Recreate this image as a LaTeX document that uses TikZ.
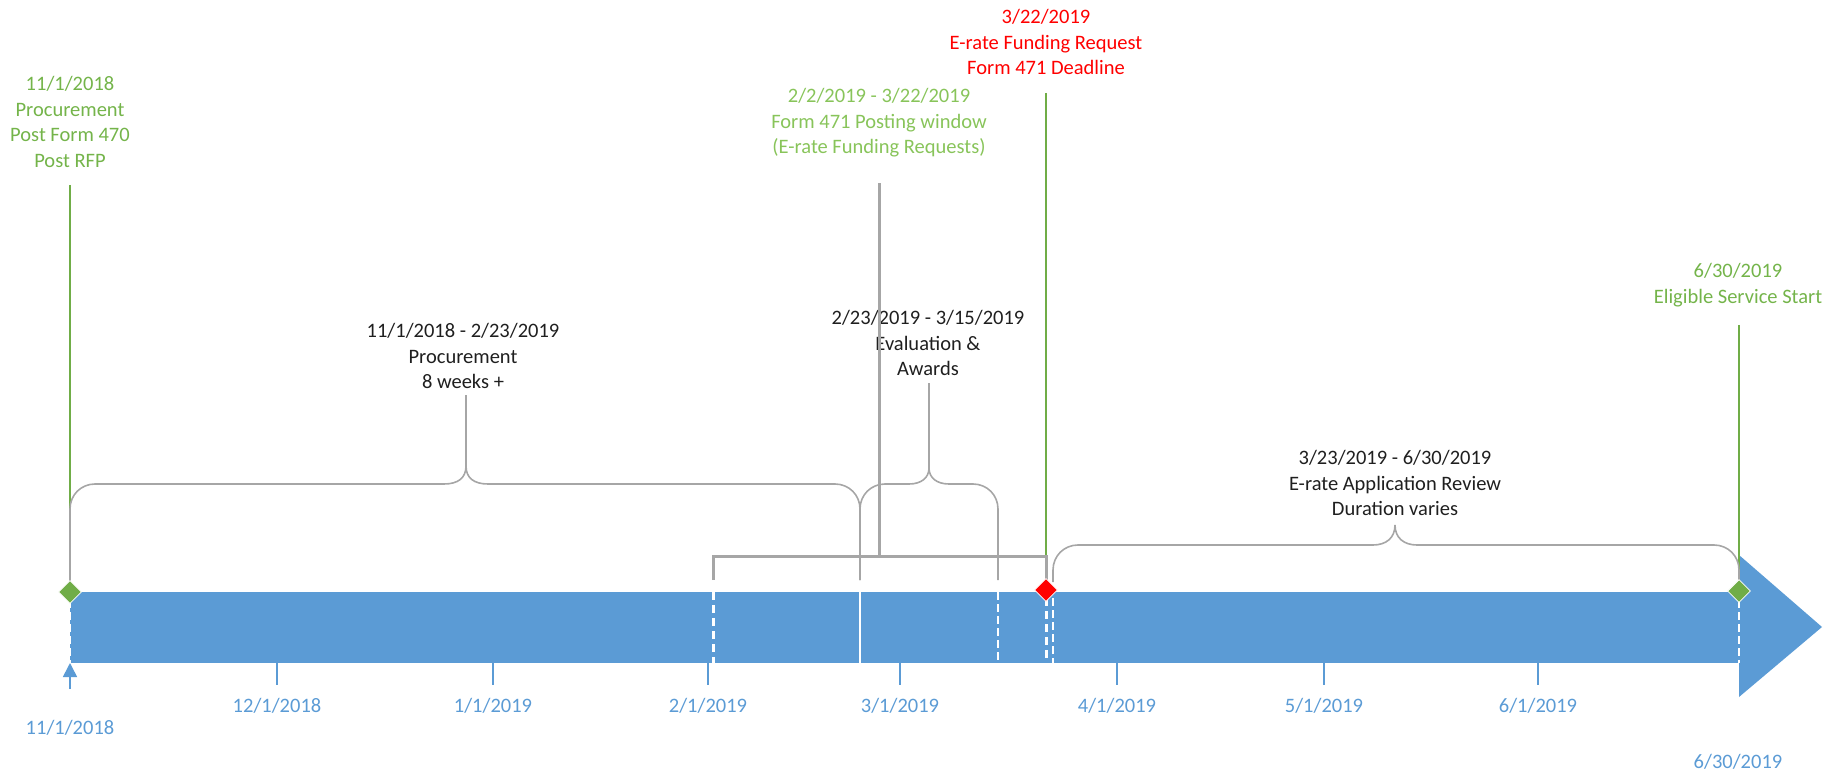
\documentclass[tikz,border=0pt]{standalone}
\usepackage{fontspec}
\setmainfont{Carlito}
\usetikzlibrary{shapes.geometric,arrows.meta}
\definecolor{barblue}{HTML}{5B9BD5}
\definecolor{mgreen}{HTML}{70AD47}
\definecolor{tgreen}{HTML}{74B44A}
\definecolor{lgreen}{HTML}{88C45A}
\definecolor{bgray}{HTML}{A6A6A6}
\definecolor{tblack}{HTML}{1F1F1F}
\begin{document}
\begin{tikzpicture}[x=0.5pt,y=-0.5pt,
  lbl/.style={font=\fontsize{10.25}{12.75}\selectfont, align=center, inner sep=0pt, anchor=north},
  axlbl/.style={font=\fontsize{10.25}{12.75}\selectfont, text=barblue, inner sep=0pt, anchor=base},
  gline/.style={draw=mgreen, line width=1pt},
  bracegray/.style={draw=bgray, line width=0.8pt},
  bracketgray/.style={draw=bgray, line width=1.5pt},
  tickline/.style={draw=barblue, line width=0.8pt},
  wthin/.style={draw=white, line width=0.8pt, dash pattern=on 4pt off 2pt},
  wthick/.style={draw=white, line width=1.5pt, dash pattern=on 4pt off 2.5pt},
  msd/.style={diamond, inner sep=0pt, minimum size=11.5pt, draw=white, line width=0.4pt},
]
\useasboundingbox (0,0) rectangle (1837,775);

% ---- timeline bar ----
\fill[barblue] (70,592) rectangle (1739,663);
\fill[barblue] (1739,555) -- (1822,627) -- (1739,697) -- cycle;

% ---- white markers in the bar ----
\coordinate (w1a) at (70,600);   \coordinate (w1b) at (70,663);
\coordinate (w2a) at (713,592);  \coordinate (w2b) at (713,663);
\coordinate (w3a) at (860,592);  \coordinate (w3b) at (860,663);
\coordinate (w4a) at (998,592);  \coordinate (w4b) at (998,663);
\coordinate (w5a) at (1046,598); \coordinate (w5b) at (1046,663);
\coordinate (w6a) at (1053,598); \coordinate (w6b) at (1053,663);
\coordinate (w7a) at (1739,600); \coordinate (w7b) at (1739,663);
\draw[wthin] (w1a) -- (w1b);
\draw[wthick] (w2a) -- (w2b);
\draw[draw=white, line width=0.8pt] (w3a) -- (w3b);
\draw[wthin] (w4a) -- (w4b);
\draw[wthick] (w5a) -- (w5b);
\draw[wthin] (w6a) -- (w6b);
\draw[wthin] (w7a) -- (w7b);

% ---- axis ticks and labels ----
\coordinate (ta1) at (277,663);  \coordinate (tb1) at (277,685);
\coordinate (ta2) at (493,663);  \coordinate (tb2) at (493,685);
\coordinate (ta3) at (708,663);  \coordinate (tb3) at (708,685);
\coordinate (ta4) at (900,663);  \coordinate (tb4) at (900,685);
\coordinate (ta5) at (1117,663); \coordinate (tb5) at (1117,685);
\coordinate (ta6) at (1324,663); \coordinate (tb6) at (1324,685);
\coordinate (ta7) at (1538,663); \coordinate (tb7) at (1538,685);
\foreach \i in {1,...,7} {\draw[tickline] (ta\i) -- (tb\i);}
\node[axlbl] (ax1) at (277,712.5) {12/1/2018};
\node[axlbl] (ax2) at (493,712.5) {1/1/2019};
\node[axlbl] (ax3) at (708,712.5) {2/1/2019};
\node[axlbl] (ax4) at (900,712.5) {3/1/2019};
\node[axlbl] (ax5) at (1117,712.5) {4/1/2019};
\node[axlbl] (ax6) at (1324,712.5) {5/1/2019};
\node[axlbl] (ax7) at (1538,712.5) {6/1/2019};
\node[axlbl] (axs) at (70,734.5) {11/1/2018};
\node[axlbl] (axe) at (1738,768.5) {6/30/2019};
\coordinate (upa) at (70,689);
\coordinate (upb) at (70,663);
\draw[tickline, -{Triangle[width=7pt,length=7pt]}] (upa) -- (upb);

% ---- milestone labels ----
\node[lbl, text=tgreen] (m1) at (70,76) {11/1/2018\\Procurement\\Post Form 470\\Post RFP};
\node[lbl, text=lgreen] (m2) at (879,88) {2/2/2019 - 3/22/2019\\Form 471 Posting window\\(E-rate Funding Requests)};
\node[lbl, text=red] (m3) at (1046,9) {3/22/2019\\E-rate Funding Request\\Form 471 Deadline};
\node[lbl, text=tgreen] (m4) at (1738,263) {6/30/2019\\Eligible Service Start};

% ---- phase labels ----
\node[lbl, text=tblack] (p1) at (463,323) {11/1/2018 - 2/23/2019\\Procurement\\8 weeks +};
\node[lbl, text=tblack] (p2) at (928,310) {2/23/2019 - 3/15/2019\\Evaluation \&\\Awards};
\node[lbl, text=tblack] (p3) at (1395,450) {3/23/2019 - 6/30/2019\\E-rate Application Review\\Duration varies};

% ---- milestone lines ----
\coordinate (g1t) at (70,185);
\coordinate (g3t) at (1046,93);
\coordinate (g4t) at (1739,325);
\coordinate (g1b) at (70,584);
\coordinate (g3b) at (1046,556);
\coordinate (g4b) at (1739,584);
\draw[gline] (g1t) -- (g1b);
\draw[gline] (g3t) -- (g3b);
\draw[gline] (g4t) -- (g4b);

% ---- braces ----
\coordinate (c1) at (466,466);
\coordinate (s1) at (466,395);
\draw[bracegray] (70,585) -- (70,509) .. controls (70,495) and (81,484) .. (95,484)
  -- (444,484) .. controls (458,484) and (466,478) .. (c1)
  .. controls (466,478) and (474,484) .. (488,484)
  -- (835,484) .. controls (849,484) and (860,495) .. (860,509) -- (860,580);
\draw[bracegray] (c1) -- (s1);

\coordinate (c2) at (929,468);
\coordinate (s2) at (929,383);
\draw[bracegray] (860,580) -- (860,509) .. controls (860,495) and (871,484) .. (885,484)
  -- (909,484) .. controls (921,484) and (929,478) .. (c2)
  .. controls (929,478) and (937,484) .. (949,484)
  -- (973,484) .. controls (987,484) and (998,495) .. (998,509) -- (998,580);
\draw[bracegray] (c2) -- (s2);

\coordinate (c3) at (1395,525);
\draw[bracegray] (1053,582) -- (1053,570) .. controls (1053,556) and (1064,545) .. (1078,545)
  -- (1373,545) .. controls (1386,545) and (1395,538) .. (c3)
  .. controls (1395,538) and (1404,545) .. (1417,545)
  -- (1714,545) .. controls (1728,545) and (1739,556) .. (1739,570) -- (1739,580);

% ---- posting window bracket ----
\coordinate (bk) at (879,556);
\coordinate (bkt) at (879,183);
\draw[bracketgray, line join=miter] (713,580) -- (713,556) -- (1046,556) -- (1046,584);
\draw[bracketgray] (bk) -- (bkt);

% ---- milestone diamonds ----
\node[msd, fill=mgreen] (d1) at (70,592) {};
\node[msd, fill=red] (d3) at (1046,590) {};
\node[msd, fill=mgreen] (d4) at (1739,591) {};
\end{tikzpicture}
\end{document}
